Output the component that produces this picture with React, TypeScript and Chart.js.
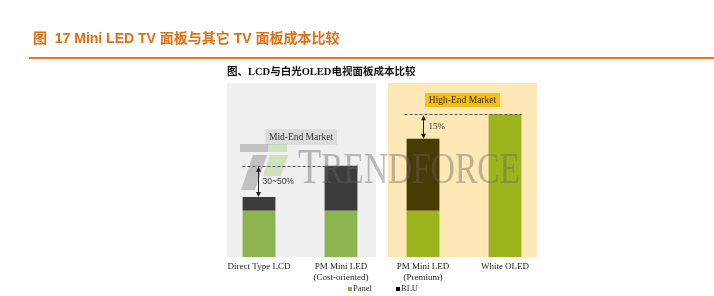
import React, { useEffect, useRef } from "react";
import { Chart, registerables } from "chart.js";

Chart.register(...registerables);

// ---------- data ----------
const categories: string[][] = [
  ["Direct Type LCD"],
  ["PM Mini LED", "(Cost-oriented)"],
  ["PM Mini LED", "(Premium)"],
  ["White OLED"],
];
const seriesNames = ["Panel", "BLU"];
const panelValues = [77, 77, 77, 238];
const bluValues = [23, 75, 120, 0];
const yMax = 290;

const titleText = "图  17 Mini LED TV 面板与其它 TV 面板成本比较";
const subtitleText = "图、LCD与白光OLED电视面板成本比较";
const midMarketLabel = "Mid-End Market";
const highMarketLabel = "High-End Market";
const midGapLabel = "30~50%";
const highGapLabel = "15%";
const watermarkFirst = "T";
const watermarkRest = "RENDFORCE";

// ---------- colours ----------
const MID_GREEN = "#8cb44f";
const HIGH_GREEN = "#9db51c";
const DARK_GRAY = "#3c3c3c";
const BROWN = "#4a3a04";
const ORANGE = "#e46f12";

const decorPlugin = {
  id: "decor",
  beforeDatasetsDraw(chart: any) {
    const { ctx, chartArea, scales } = chart;
    const x = scales.x;
    const c = [0, 1, 2, 3].map((i) => x.getPixelForValue(i));
    ctx.save();
    // title
    ctx.fillStyle = ORANGE;
    ctx.font = "bold 14px 'Liberation Sans', 'Noto Sans CJK SC'";
    ctx.textBaseline = "alphabetic";
    ctx.textAlign = "left";
    ctx.fillText(titleText, 33, 43);
    // orange rule
    ctx.fillStyle = "#e8792b";
    ctx.fillRect(29, 57, 714 - 29, 2);
    // subtitle
    ctx.fillStyle = "#111";
    ctx.font = "bold 10.5px 'Liberation Serif', 'Noto Sans CJK SC'";
    ctx.fillText(subtitleText, 227, 75);

    // panels
    const top = chartArea.top;
    const bottom = chartArea.bottom;
    ctx.fillStyle = "#f0f0f0";
    ctx.fillRect(c[0] - 32, top, c[1] + 35 - (c[0] - 32), bottom - top);
    ctx.fillStyle = "#fee8b6";
    ctx.fillRect(c[2] - 35, top, c[3] + 32 - (c[2] - 35), bottom - top);

    // market labels
    const midCx = (c[0] + c[1]) / 2 + 1;
    ctx.fillStyle = "#dcdcdc";
    ctx.fillRect(midCx - 36, 129, 72, 16);
    ctx.fillStyle = "#333";
    ctx.font = "9.5px 'Liberation Serif'";
    ctx.textAlign = "center";
    ctx.textBaseline = "middle";
    ctx.fillText(midMarketLabel, midCx, 137.5);

    const hiCx = (c[2] + c[3]) / 2 - 1.5;
    ctx.fillStyle = "#f6bf12";
    ctx.fillRect(hiCx - 37.5, 93, 75, 14);
    ctx.fillStyle = "#3a2a00";
    ctx.fillText(highMarketLabel, hiCx, 100.5);
    ctx.restore();
  },
  afterDatasetsDraw(chart: any) {
    const { ctx, scales } = chart;
    const x = scales.x;
    const y = scales.y;
    const c = [0, 1, 2, 3].map((i) => x.getPixelForValue(i));
    const half = 16.5;
    const totals = panelValues.map((v, i) => v + bluValues[i]);
    ctx.save();

    // watermark logo
    ctx.fillStyle = "rgba(120,120,120,0.4)";
    ctx.fillRect(240, 144, 28, 8);
    ctx.beginPath();
    ctx.moveTo(253, 155);
    ctx.lineTo(267, 155);
    ctx.lineTo(255, 190);
    ctx.lineTo(241, 190);
    ctx.closePath();
    ctx.fill();
    ctx.fillStyle = "rgba(150,200,90,0.35)";
    ctx.fillRect(268, 144, 19, 8);
    ctx.beginPath();
    ctx.moveTo(270, 155);
    ctx.lineTo(288, 155);
    ctx.lineTo(281, 176);
    ctx.lineTo(263, 176);
    ctx.closePath();
    ctx.fill();

    // watermark text
    ctx.fillStyle = "rgba(100,100,100,0.42)";
    ctx.textAlign = "left";
    ctx.textBaseline = "alphabetic";
    ctx.font = "50px 'Liberation Serif'";
    const wT = ctx.measureText(watermarkFirst).width;
    ctx.font = "44px 'Liberation Serif'";
    const wR = ctx.measureText(watermarkRest).width;
    const sx = 222 / (wT + wR);
    ctx.save();
    ctx.translate(298, 183);
    ctx.scale(sx, 1);
    ctx.font = "50px 'Liberation Serif'";
    ctx.fillText(watermarkFirst, 0, 0);
    ctx.font = "44px 'Liberation Serif'";
    ctx.fillText(watermarkRest, wT, 0);
    ctx.restore();

    // dashed reference lines
    ctx.strokeStyle = "#555";
    ctx.lineWidth = 1;
    ctx.setLineDash([3, 2]);
    const yMid = Math.round(y.getPixelForValue(totals[1])) + 0.5;
    ctx.beginPath();
    ctx.moveTo(c[0] - half, yMid);
    ctx.lineTo(c[1] + half, yMid);
    ctx.stroke();
    const yHigh = Math.round(y.getPixelForValue(totals[3])) + 0.5;
    ctx.beginPath();
    ctx.moveTo(c[2] - half - 2, yHigh);
    ctx.lineTo(c[3] + half, yHigh);
    ctx.stroke();
    ctx.setLineDash([]);

    // double arrows
    const arrow = (ax: number, y1: number, y2: number) => {
      ctx.strokeStyle = "#222";
      ctx.fillStyle = "#222";
      ctx.lineWidth = 1;
      ctx.beginPath();
      ctx.moveTo(ax, y1 + 3);
      ctx.lineTo(ax, y2 - 3);
      ctx.stroke();
      ctx.beginPath();
      ctx.moveTo(ax, y1);
      ctx.lineTo(ax - 2.5, y1 + 5);
      ctx.lineTo(ax + 2.5, y1 + 5);
      ctx.closePath();
      ctx.fill();
      ctx.beginPath();
      ctx.moveTo(ax, y2);
      ctx.lineTo(ax - 2.5, y2 - 5);
      ctx.lineTo(ax + 2.5, y2 - 5);
      ctx.closePath();
      ctx.fill();
    };
    const axMid = Math.round(c[0]) - 0.5;
    arrow(axMid, y.getPixelForValue(totals[1]) + 1, y.getPixelForValue(totals[0]));
    const axHigh = Math.round(c[2]) + 0.5;
    arrow(axHigh, y.getPixelForValue(totals[3]) + 1, y.getPixelForValue(totals[2]));

    ctx.fillStyle = "#333";
    ctx.textBaseline = "middle";
    ctx.font = "8.5px 'Liberation Sans'";
    ctx.fillText(midGapLabel, axMid + 4, 182);
    ctx.font = "9px 'Liberation Serif'";
    ctx.fillText(highGapLabel, axHigh + 5, 127);
    ctx.restore();
  },
  afterDraw(chart: any) {
    const { ctx } = chart;
    ctx.save();
    ctx.font = "8.5px 'Liberation Serif'";
    ctx.textBaseline = "middle";
    ctx.textAlign = "left";
    ctx.fillStyle = MID_GREEN;
    ctx.fillRect(348, 287, 4, 4);
    ctx.fillStyle = "#333";
    ctx.fillText(seriesNames[0], 353, 289);
    ctx.fillStyle = "#000";
    ctx.fillRect(396, 287, 4, 4);
    ctx.fillStyle = "#333";
    ctx.fillText(seriesNames[1], 401, 289);
    ctx.restore();
  },
};

export default function App() {
  const ref = useRef<HTMLCanvasElement | null>(null);
  useEffect(() => {
    if (!ref.current) return;
    const chart = new Chart(ref.current, {
      type: "bar",
      data: {
        labels: categories,
        datasets: [
          {
            label: seriesNames[0],
            data: panelValues,
            backgroundColor: [MID_GREEN, MID_GREEN, HIGH_GREEN, HIGH_GREEN],
            borderWidth: 0,
            barPercentage: 0.4,
            categoryPercentage: 1,
          },
          {
            label: seriesNames[1],
            data: bluValues,
            backgroundColor: [DARK_GRAY, DARK_GRAY, BROWN, BROWN],
            borderWidth: 0,
            barPercentage: 0.4,
            categoryPercentage: 1,
          },
        ],
      },
      options: {
        responsive: false,
        animation: false,
        devicePixelRatio: 1,
        layout: { padding: { left: 218, right: 168, top: 83, bottom: 9 } },
        plugins: { legend: { display: false }, tooltip: { enabled: false } },
        scales: {
          x: {
            stacked: true,
            grid: { display: false, drawTicks: false },
            border: { display: false },
            ticks: {
              color: "#222",
              font: { family: "'Liberation Serif'", size: 9, lineHeight: 1.22 },
              padding: 4,
              maxRotation: 0,
              autoSkip: false,
            },
          },
          y: { stacked: true, display: false, min: 0, max: yMax },
        },
      },
      plugins: [decorPlugin],
    });
    return () => chart.destroy();
  }, []);
  return (
    <div style={{ position: "fixed", left: 0, top: 0, width: 714, height: 296, background: "#fff" }}>
      <canvas ref={ref} width={714} height={296} style={{ display: "block" }} />
    </div>
  );
}
